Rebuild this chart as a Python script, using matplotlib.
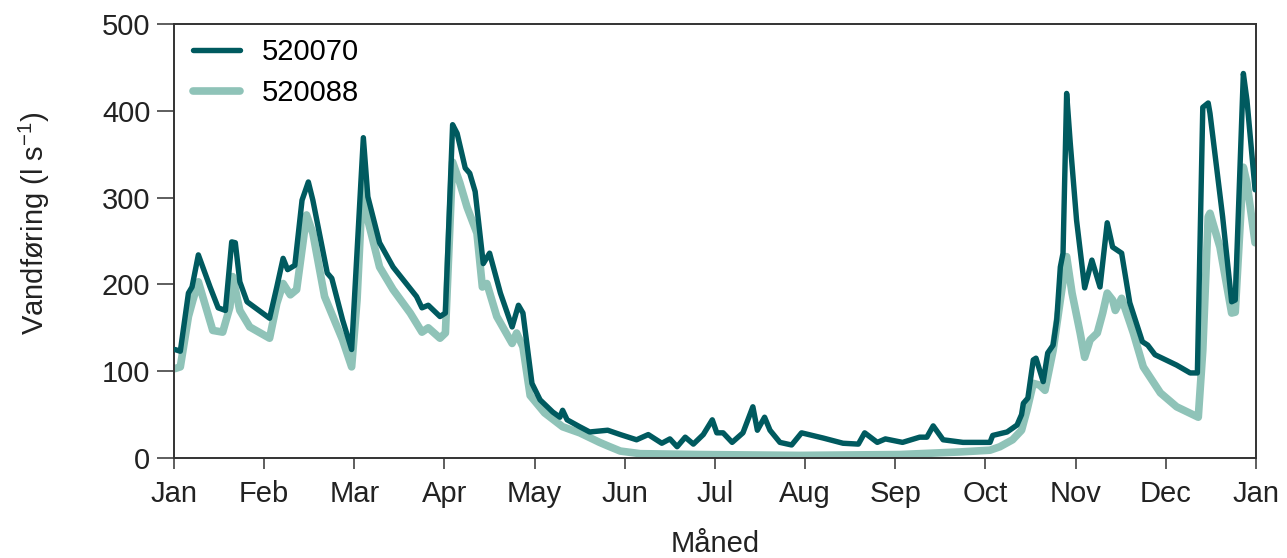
import numpy as np
import matplotlib
matplotlib.use("Agg")
import matplotlib.pyplot as plt

plt.rcParams['font.family'] = ['Liberation Sans', 'DejaVu Sans']
plt.rcParams['mathtext.default'] = 'regular'

# month positions (0 = 1 Jan, 12 = 1 Jan next year) and discharge in l/s
months = ["Jan", "Feb", "Mar", "Apr", "May", "Jun", "Jul", "Aug", "Sep",
          "Oct", "Nov", "Dec", "Jan"]

x_520070 = [0.01, 0.07, 0.16, 0.20, 0.27, 0.40, 0.49, 0.57, 0.64, 0.68, 0.73, 0.81,
            1.06, 1.14, 1.21, 1.26, 1.34, 1.42, 1.49, 1.54, 1.70, 1.75, 1.87, 1.97,
            2.10, 2.15, 2.28, 2.43, 2.69, 2.75, 2.82, 2.95, 3.01, 3.09, 3.14, 3.23,
            3.28, 3.34, 3.43, 3.50, 3.62, 3.75, 3.82, 3.87, 3.97, 4.06, 4.20, 4.28,
            4.31, 4.36, 4.50, 4.61, 4.81, 4.95, 5.13, 5.26, 5.41, 5.50, 5.58, 5.67,
            5.76, 5.87, 5.97, 6.02, 6.09, 6.19, 6.31, 6.42, 6.47, 6.55, 6.61, 6.72,
            6.85, 6.96, 7.20, 7.42, 7.59, 7.66, 7.80, 7.89, 8.08, 8.27, 8.35, 8.42,
            8.53, 8.75, 9.05, 9.08, 9.24, 9.35, 9.40, 9.42, 9.47, 9.53, 9.56, 9.64,
            9.69, 9.75, 9.79, 9.83, 9.86, 9.90, 9.94, 10.01, 10.10, 10.18, 10.27,
            10.35, 10.41, 10.51, 10.60, 10.74, 10.80, 10.88, 11.12, 11.27, 11.35,
            11.41, 11.47, 11.49, 11.63, 11.73, 11.77, 11.86, 11.90, 11.99]
q_520070 = [125, 123, 190, 197, 234, 197, 173, 170, 249, 248, 203, 180,
            161, 197, 230, 217, 222, 297, 318, 297, 213, 207, 159, 125,
            369, 301, 248, 220, 186, 173, 176, 163, 167, 384, 374, 334,
            328, 307, 224, 236, 190, 151, 176, 167, 86, 67, 53, 47,
            55, 44, 36, 30, 32, 27, 21, 27, 17, 22, 13, 24,
            16, 27, 44, 29, 29, 18, 29, 59, 32, 47, 32, 18,
            15, 29, 23, 17, 16, 29, 18, 22, 18, 24, 24, 37,
            21, 18, 18, 26, 30, 38, 50, 63, 69, 113, 115, 88,
            121, 130, 159, 220, 236, 420, 363, 274, 196, 228, 197,
            271, 243, 236, 179, 134, 130, 119, 107, 98, 98,
            404, 409, 397, 278, 180, 182, 443, 412, 309]

x_520088 = [0.01, 0.07, 0.16, 0.21, 0.27, 0.43, 0.54, 0.62, 0.65, 0.73, 0.84,
            1.06, 1.14, 1.21, 1.29, 1.36, 1.43, 1.47, 1.54, 1.67, 1.87, 1.97,
            2.03, 2.10, 2.15, 2.28, 2.43, 2.62, 2.75, 2.82, 2.95, 3.01, 3.09,
            3.17, 3.25, 3.36, 3.42, 3.47, 3.58, 3.75, 3.80, 3.87, 3.95, 4.11,
            4.31, 4.50, 4.72, 4.81, 4.95, 5.17, 5.83, 6.94, 8.05, 8.72, 9.05,
            9.16, 9.30, 9.40, 9.46, 9.53, 9.60, 9.66, 9.75, 9.83, 9.90, 9.96,
            10.05, 10.10, 10.16, 10.24, 10.30, 10.35, 10.41, 10.44, 10.51, 10.64,
            10.75, 10.94, 11.12, 11.36, 11.41, 11.47, 11.49, 11.60, 11.73, 11.77,
            11.86, 11.90, 11.99]
q_520088 = [103, 105, 163, 182, 203, 147, 145, 174, 209, 170, 151,
            138, 178, 201, 188, 194, 248, 280, 259, 186, 136, 105,
            182, 332, 274, 220, 194, 167, 145, 150, 138, 144, 341,
            317, 289, 259, 197, 201, 163, 132, 144, 128, 72, 52,
            36, 29, 18, 14, 8, 5, 4, 3, 4, 7, 9,
            13, 21, 32, 55, 86, 84, 78, 124, 182, 232, 190,
            144, 116, 136, 144, 167, 190, 182, 170, 184, 144,
            105, 75, 59, 47, 124, 278, 282, 243, 167, 168,
            335, 317, 248]

dark = "#005a5f"
light = "#8fc3b8"
ink = "#222222"
fs = 21

fig = plt.figure(figsize=(12.87, 5.58), dpi=100)
ax = fig.add_axes([0.1352, 0.1792, 0.8407, 0.7778])

ax.plot(x_520088, q_520088, color=light, lw=5.5, solid_joinstyle="round",
        solid_capstyle="round", label="520088", zorder=2)
ax.plot(x_520070, q_520070, color=dark, lw=3.9, solid_joinstyle="round",
        solid_capstyle="round", label="520070", zorder=3)

ax.set_xlim(0, 12)
ax.set_ylim(0, 500)
ax.set_xticks(np.arange(13))
ax.set_xticklabels(months)
ax.set_yticks(np.arange(0, 501, 100))

for s in ax.spines.values():
    s.set_linewidth(1.4)
    s.set_color("#333333")
ax.tick_params(axis="x", length=8, width=1.1, pad=8, labelsize=fs,
               colors="#333333", labelcolor=ink)
ax.tick_params(axis="y", length=12, width=1.1, pad=5, labelsize=fs,
               colors="#333333", labelcolor=ink)

ax.set_xlabel("Måned", fontsize=fs, color=ink)
ax.set_ylabel("Vandføring (l s$^{-1}$)", fontsize=fs, color=ink)
ax.xaxis.set_label_coords(0.5, -0.165)
ax.yaxis.set_label_coords(-0.113, 0.54)

handles, labels = ax.get_legend_handles_labels()
ax.legend(handles[::-1], labels[::-1], loc="upper left", frameon=False,
          fontsize=fs, handlelength=1.6, handletextpad=0.75, labelspacing=0.45,
          borderaxespad=0.25, bbox_to_anchor=(0.0, 1.012))

fig.savefig("out.png", dpi=100)
